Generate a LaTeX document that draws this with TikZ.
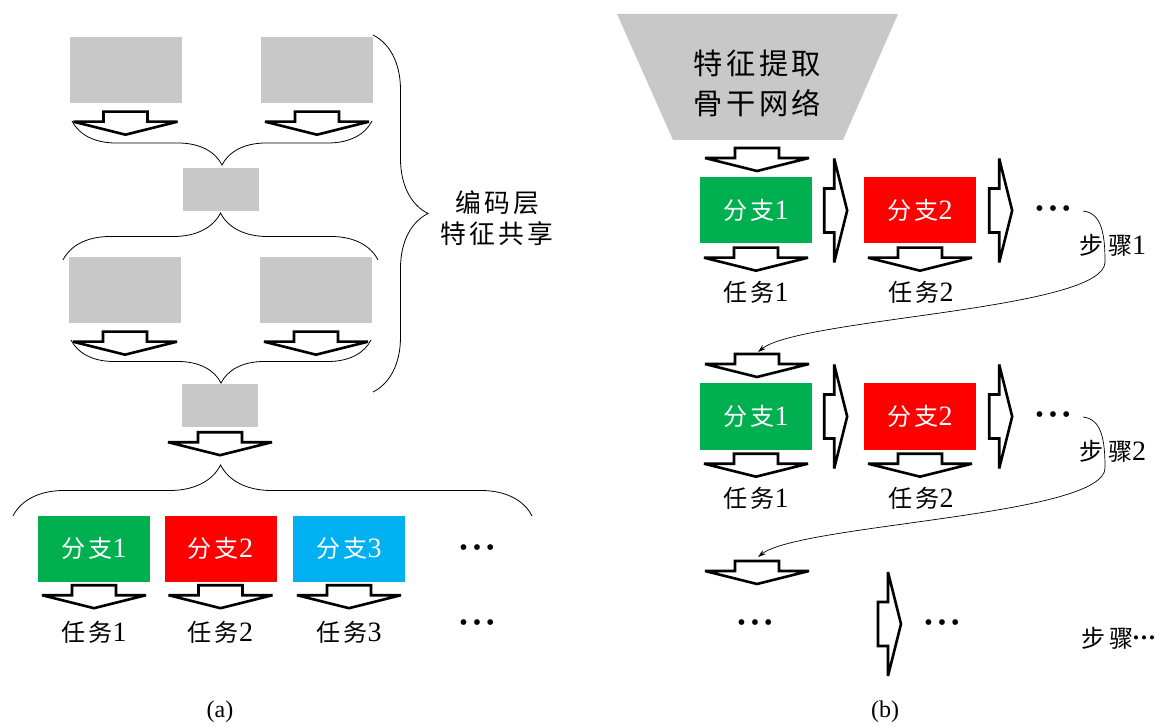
\documentclass[tikz,border=0pt]{standalone}
\usepackage{fontspec}
\setmainfont{Liberation Serif}
\newfontfamily\cjk[Scale=0.86,LetterSpace=12]{Noto Sans CJK SC}
\usetikzlibrary{arrows.meta,decorations.pathreplacing}

\definecolor{boxgray}{HTML}{C8C8C8}
\definecolor{brgreen}{HTML}{00B050}
\definecolor{brred}{HTML}{FF0000}
\definecolor{brblue}{HTML}{00B0F0}
\newcommand\threedots{{\fontsize{24}{24}\selectfont\textbullet\kern5pt\textbullet\kern5pt\textbullet}}
\newcommand\smalldots{\raisebox{4pt}{\fontsize{17}{17}\selectfont\textbullet\kern2pt\textbullet\kern2pt\textbullet}}

\tikzset{
  hollow/.style={draw=black,line width=2.6pt,fill=white,miter limit=3},
  downarr/.pic={\path[hollow] (-22,0) -- (22,0) -- (22,-10) -- (52,-10) -- (0,-23) -- (-52,-10) -- (-22,-10) -- cycle;},
  rightarr/.pic={\path[hollow] (0,22) -- (0,-22) -- (10,-22) -- (10,-52) -- (23,0) -- (10,52) -- (10,22) -- cycle;}
}

\begin{document}
\begin{tikzpicture}[x=1pt,y=1pt,
  every node/.style={inner sep=0pt},
  graybox/.style={fill=boxgray,minimum width=112pt,minimum height=66pt},
  smallbox/.style={fill=boxgray,minimum width=76pt,minimum height=43pt},
  branch/.style={fill=#1,text=white,minimum width=112pt,minimum height=66pt,font=\fontsize{28}{30}\selectfont},
  tasktext/.style={font=\fontsize{28}{30}\selectfont},
  curly/.style={decorate,decoration={brace,amplitude=#1},line width=0.8pt},
  steparrow/.style={-{Stealth[length=8pt,width=5pt]},line width=0.7pt}]
  \useasboundingbox (0,0) rectangle (1168,-727);

  % (a) shared encoder
  \node[graybox] (enc1) at (125.5,-70.5) {};
  \node[graybox] (enc2) at (317,-70.5) {};
  \path ([yshift=-8pt]enc1.south) pic {downarr};
  \path ([yshift=-8pt]enc2.south) pic {downarr};
  \draw[curly=44pt] (372,-121) -- (72,-121);
  \node[smallbox] (mid1) at (221,-189.5) {};
  \draw[curly=47pt] (63,-260) -- (378,-260);
  \node[graybox] (enc3) at (125,-290.5) {};
  \node[graybox] (enc4) at (316,-290.5) {};
  \path ([yshift=-8pt]enc3.south) pic {downarr};
  \path ([yshift=-8pt]enc4.south) pic {downarr};
  \draw[curly=43pt] (371,-340) -- (71,-340);
  \node[smallbox] (mid2) at (220,-405.5) {};
  \path ([yshift=-5pt]mid2.south) pic {downarr};
  \draw[decorate,decoration={brace,amplitude=51pt,aspect=0.4},line width=0.8pt] (13,-516) -- (532,-516);
  \draw[curly=55pt] (373,-35) -- (373,-392);
  \node[align=center,font=\fontsize{30}{31}\selectfont] (enctext) at (497,-218) {{\cjk 编码层}\\{\cjk 特征共享}};

  \node[branch=brgreen] (a1) at (94,-548.5) {{\cjk 分支}1};
  \node[branch=brred] (a2) at (220.5,-548.5) {{\cjk 分支}2};
  \node[branch=brblue] (a3) at (349,-548.5) {{\cjk 分支}3};
  \node[tasktext] (adots1) at (477,-550) {\threedots};
  \path ([yshift=-3.5pt]a1.south) pic {downarr};
  \path ([yshift=-3.5pt]a2.south) pic {downarr};
  \path ([yshift=-3.5pt]a3.south) pic {downarr};
  \node[tasktext] (at1) at (94,-632) {{\cjk 任务}1};
  \node[tasktext] (at2) at (220.5,-632) {{\cjk 任务}2};
  \node[tasktext] (at3) at (349,-632) {{\cjk 任务}3};
  \node[tasktext] (adots2) at (477,-625) {\threedots};
  \node[font=\fontsize{24}{28}\selectfont] (capa) at (220,-712) {(a)};

  % (b) stepwise branches
  \fill[boxgray] (617,-14) -- (898,-14) -- (843,-140) -- (673,-140) -- cycle;
  \node[align=center,font=\fontsize{34}{40}\selectfont] (backbone) at (757.5,-83) {{\cjk 特征提取}\\{\cjk 骨干网络}};
  \path (757,-148) pic {downarr};

  \node[branch=brgreen] (s1a) at (756,-210.5) {{\cjk 分支}1};
  \node[branch=brred] (s1b) at (920,-210.5) {{\cjk 分支}2};
  \path ([yshift=-4pt]s1a.south) pic {downarr};
  \path ([yshift=-4pt]s1b.south) pic {downarr};
  \path ([xshift=12pt]s1a.east) pic {rightarr};
  \path ([xshift=13pt]s1b.east) pic {rightarr};
  \node[tasktext] (s1ta) at (756,-292) {{\cjk 任务}1};
  \node[tasktext] (s1tb) at (921,-292) {{\cjk 任务}2};
  \node[tasktext] (s1dots) at (1053,-211) {\threedots};
  \node[tasktext] (s1lbl) at (1113,-245) {{\cjk 步\hspace{4pt}骤}1};
  \coordinate (s1out) at (1083,-211);
  \coordinate (s2in) at (758,-352);
  \draw[steparrow] (s1out) .. controls (1102,-213) and (1105,-235) .. (1105,-262) .. controls (1105,-310) and (800,-318) .. (s2in);

  \path (757,-354) pic {downarr};
  \node[branch=brgreen] (s2a) at (756,-416.5) {{\cjk 分支}1};
  \node[branch=brred] (s2b) at (920,-416.5) {{\cjk 分支}2};
  \path ([yshift=-4pt]s2a.south) pic {downarr};
  \path ([yshift=-4pt]s2b.south) pic {downarr};
  \path ([xshift=12pt]s2a.east) pic {rightarr};
  \path ([xshift=13pt]s2b.east) pic {rightarr};
  \node[tasktext] (s2ta) at (756,-498) {{\cjk 任务}1};
  \node[tasktext] (s2tb) at (921,-498) {{\cjk 任务}2};
  \node[tasktext] (s2dots) at (1053,-417) {\threedots};
  \node[tasktext] (s2lbl) at (1113,-451) {{\cjk 步\hspace{4pt}骤}2};
  \coordinate (s2out) at (1083,-417);
  \coordinate (s3in) at (758,-557);
  \draw[steparrow] (s2out) .. controls (1102,-419) and (1105,-441) .. (1105,-468) .. controls (1105,-516) and (800,-524) .. (s3in);

  \path (757,-561) pic {downarr};
  \node[tasktext] (s3dots) at (755,-625) {\threedots};
  \path (878,-624) pic {rightarr};
  \node[tasktext] (s3dotsb) at (942,-625) {\threedots};
  \node[tasktext] (s3lbl) at (1118,-638) {{\cjk 步\hspace{4pt}骤}\smalldots};
  \node[font=\fontsize{24}{28}\selectfont] (capb) at (885,-712) {(b)};
\end{tikzpicture}
\end{document}
